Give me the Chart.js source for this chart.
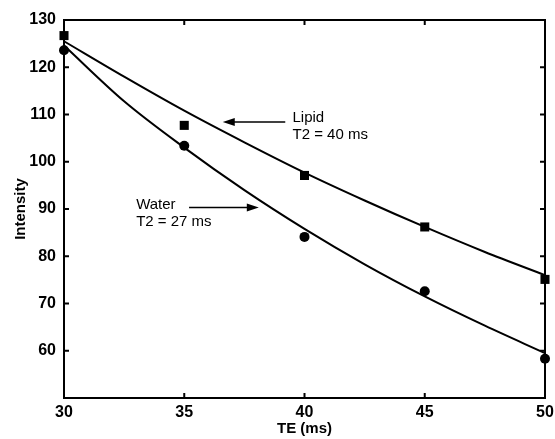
<!DOCTYPE html>
<html>
<head>
<meta charset="utf-8">
<script src="https://cdn.jsdelivr.net/npm/chart.js@4/dist/chart.umd.min.js"></script>
<style>
  html, body { margin: 0; padding: 0; background: #fff; }
  #wrap { width: 555px; height: 439px; }
</style>
</head>
<body>
<div id="wrap"><canvas id="chart" width="555" height="439"></canvas></div>
<script>
// measured points
const teValues = [30, 35, 40, 45, 50];
const lipidPoints = [126.7, 107.7, 97.1, 86.2, 75.1];
const waterPoints = [123.6, 103.4, 84.1, 72.6, 58.3];

// fitted curves
const fitTe = [30, 32.5, 35, 37.5, 40, 42.5, 45, 47.5, 50];
const lipidFit = [125.5, 118.0, 110.8, 104.1, 97.7, 91.8, 86.2, 80.9, 76.0];
const waterFit = [124.6, 112.8, 103.0, 94.0, 85.8, 78.3, 71.5, 65.3, 59.5];

const xTicks = [30, 35, 40, 45, 50];
const yTicks = [60, 70, 80, 90, 100, 110, 120, 130];

const tickFont = { family: 'Liberation Sans', size: 16, weight: 'bold' };
const labelFont = '15px "Liberation Sans"';

const toXY = (xs, ys) => xs.map((x, i) => ({ x: x, y: ys[i] }));

// box frame with inward ticks on all four sides
const framePlugin = {
  id: 'frame',
  afterDraw(chart) {
    const { ctx, chartArea: a, scales: { x, y } } = chart;
    ctx.save();
    ctx.strokeStyle = '#000';
    ctx.lineWidth = 2;
    ctx.strokeRect(a.left, a.top, a.right - a.left, a.bottom - a.top);
    ctx.beginPath();
    xTicks.forEach(v => {
      const px = x.getPixelForValue(v);
      ctx.moveTo(px, a.bottom); ctx.lineTo(px, a.bottom - 5);
      ctx.moveTo(px, a.top); ctx.lineTo(px, a.top + 5);
    });
    yTicks.forEach(v => {
      const py = y.getPixelForValue(v);
      ctx.moveTo(a.left, py); ctx.lineTo(a.left + 5, py);
      ctx.moveTo(a.right, py); ctx.lineTo(a.right - 5, py);
    });
    ctx.stroke();
    ctx.restore();
  }
};

function arrow(ctx, x1, y1, x2, y2) {
  const dir = Math.sign(x2 - x1);
  ctx.beginPath();
  ctx.moveTo(x1, y1);
  ctx.lineTo(x2 - dir * 8, y2);
  ctx.stroke();
  ctx.beginPath();
  ctx.moveTo(x2, y2);
  ctx.lineTo(x2 - dir * 12, y2 - 4);
  ctx.lineTo(x2 - dir * 12, y2 + 4);
  ctx.closePath();
  ctx.fill();
}

const notesPlugin = {
  id: 'notes',
  afterDraw(chart) {
    const { ctx, scales: { x, y } } = chart;
    ctx.save();
    ctx.fillStyle = '#000';
    ctx.strokeStyle = '#000';
    ctx.lineWidth = 1.5;
    ctx.font = labelFont;
    ctx.textBaseline = 'middle';
    ctx.textAlign = 'left';
    ctx.fillText('Lipid', x.getPixelForValue(39.5), y.getPixelForValue(109.3));
    ctx.fillText('T2 = 40 ms', x.getPixelForValue(39.5), y.getPixelForValue(105.7));
    arrow(ctx, x.getPixelForValue(39.2), y.getPixelForValue(108.4),
               x.getPixelForValue(36.6), y.getPixelForValue(108.4));
    ctx.fillText('Water', x.getPixelForValue(33.0), y.getPixelForValue(90.9));
    ctx.fillText('T2 = 27 ms', x.getPixelForValue(33.0), y.getPixelForValue(87.3));
    arrow(ctx, x.getPixelForValue(35.2), y.getPixelForValue(90.3),
               x.getPixelForValue(38.1), y.getPixelForValue(90.3));
    ctx.restore();
  }
};

new Chart(document.getElementById('chart'), {
  type: 'scatter',
  data: {
    datasets: [
      {
        label: 'Lipid fit',
        data: toXY(fitTe, lipidFit),
        showLine: true,
        cubicInterpolationMode: 'monotone',
        borderColor: '#000',
        borderWidth: 2,
        pointRadius: 0
      },
      {
        label: 'Water fit',
        data: toXY(fitTe, waterFit),
        showLine: true,
        cubicInterpolationMode: 'monotone',
        borderColor: '#000',
        borderWidth: 2,
        pointRadius: 0
      },
      {
        label: 'Lipid',
        data: toXY(teValues, lipidPoints),
        pointStyle: 'rect',
        pointRadius: 6.4,
        backgroundColor: '#000',
        borderColor: '#000',
        borderWidth: 0
      },
      {
        label: 'Water',
        data: toXY(teValues, waterPoints),
        pointStyle: 'circle',
        pointRadius: 5,
        backgroundColor: '#000',
        borderColor: '#000',
        borderWidth: 0
      }
    ]
  },
  options: {
    responsive: false,
    animation: false,
    clip: false,
    layout: { padding: { top: 20, right: 10, left: 0, bottom: 0 } },
    plugins: { legend: { display: false }, tooltip: { enabled: false } },
    scales: {
      x: {
        type: 'linear',
        min: 30,
        max: 50,
        afterBuildTicks: s => { s.ticks = xTicks.map(v => ({ value: v })); },
        afterFit: s => { s.height = 41; },
        grid: { display: false },
        border: { display: false },
        ticks: { color: '#000', font: tickFont, padding: -3 },
        title: { display: true, text: 'TE (ms)', color: '#000', font: { family: 'Liberation Sans', size: 15, weight: 'bold' }, padding: { top: 0, bottom: 1 } }
      },
      y: {
        min: 50,
        max: 130,
        afterBuildTicks: s => { s.ticks = yTicks.map(v => ({ value: v })); },
        afterFit: s => { s.width = 64; },
        grid: { display: false },
        border: { display: false },
        ticks: { color: '#000', font: tickFont, padding: 0 },
        title: { display: true, text: 'Intensity', color: '#000', font: { family: 'Liberation Sans', size: 15, weight: 'bold' }, padding: { top: 12, bottom: 0 } }
      }
    }
  },
  plugins: [framePlugin, notesPlugin]
});
</script>
</body>
</html>
